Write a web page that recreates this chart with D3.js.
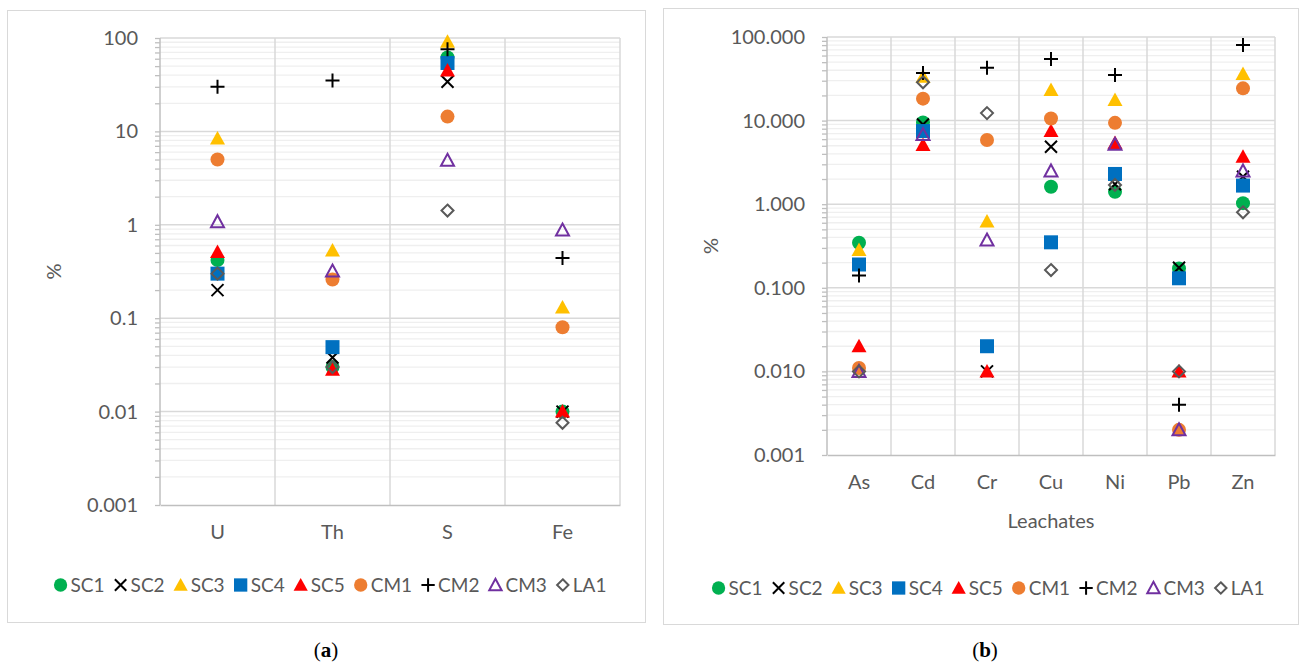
<!DOCTYPE html>
<html>
<head>
<meta charset="utf-8">
<script src="https://cdn.jsdelivr.net/npm/d3@7"></script>
<style>
  html, body { margin: 0; padding: 0; background: #fff; }
  svg { display: block; }
</style>
</head>
<body>
<svg id="fig" width="1304" height="664"></svg>
<script>
// ---- data -------------------------------------------------------------
const seriesNames = ["SC1", "SC2", "SC3", "SC4", "SC5", "CM1", "CM2", "CM3", "LA1"];

// (a) total contents, %
const totalElements = ["U", "Th", "S", "Fe"];
const totalSC1 = [0.42, 0.030, 62, 0.010];
const totalSC2 = [0.20, 0.038, 34, 0.010];
const totalSC3 = [8.4, 0.53, 91, 0.13];
const totalSC4 = [0.30, 0.049, 54, null];
const totalSC5 = [0.51, 0.028, 45, 0.010];
const totalCM1 = [5.0, 0.26, 14.4, 0.08];
const totalCM2 = [30, 35, 76, 0.44];
const totalCM3 = [1.08, 0.32, 4.9, 0.88];
const totalLA1 = [0.30, 0.030, 1.42, 0.0076];
const totalTicks = ["0.001", "0.01", "0.1", "1", "10", "100"];

// (b) leachates, %
const leachElements = ["As", "Cd", "Cr", "Cu", "Ni", "Pb", "Zn"];
const leachSC1 = [0.346, 9.5, null, 1.62, 1.41, 0.17, 1.03];
const leachSC2 = [null, 9.0, 0.010, 4.87, 1.73, 0.174, 2.13];
const leachSC3 = [0.283, 33.5, 0.62, 23.2, 17.6, null, 36];
const leachSC4 = [0.19, 7.5, 0.020, 0.35, 2.3, 0.13, 1.67];
const leachSC5 = [0.020, 5.1, 0.010, 7.5, 5.4, 0.010, 3.7];
const leachCM1 = [0.011, 18.3, 5.86, 10.6, 9.4, 0.002, 24.3];
const leachCM2 = [0.14, 37, 43, 54.5, 35, 0.004, 80];
const leachCM3 = [0.010, 6.8, 0.373, 2.5, 5.2, 0.002, 2.5];
const leachLA1 = [0.010, 28.7, 12.3, 0.163, 1.7, 0.010, 0.80];
const leachTicks = ["0.001", "0.010", "0.100", "1.000", "10.000", "100.000"];

// ---- marker styles ----------------------------------------------------
const styles = {
  SC1: { shape: "circle",   color: "#00B050" },
  SC2: { shape: "x",        color: "#000000" },
  SC3: { shape: "triangle", color: "#FFC000" },
  SC4: { shape: "square",   color: "#0070C0" },
  SC5: { shape: "triangle", color: "#FF0000" },
  CM1: { shape: "circle",   color: "#ED7D31" },
  CM2: { shape: "plus",     color: "#000000" },
  CM3: { shape: "otriangle",color: "#7030A0" },
  LA1: { shape: "diamond",  color: "#595959" }
};

const SANS = "Lato, 'Open Sans', sans-serif";
const SERIF = "'Liberation Serif', 'DejaVu Serif', serif";

function drawMarker(g, shape, color, s) {
  s = s || 1;
  switch (shape) {
    case "circle":
      g.append("circle").attr("r", 7 * s).attr("fill", color);
      break;
    case "square":
      g.append("rect").attr("x", -7 * s).attr("y", -7 * s)
        .attr("width", 14 * s).attr("height", 14 * s).attr("fill", color);
      break;
    case "triangle":
      g.append("path").attr("d", `M0,${-7.5 * s}L${7.5 * s},${6 * s}L${-7.5 * s},${6 * s}Z`).attr("fill", color);
      break;
    case "otriangle":
      g.append("path").attr("d", `M0,${-6.5 * s}L${6.5 * s},${5.5 * s}L${-6.5 * s},${5.5 * s}Z`)
        .attr("fill", "none").attr("stroke", color).attr("stroke-width", 2);
      break;
    case "diamond":
      g.append("path").attr("d", `M0,${-6 * s}L${6 * s},0L0,${6 * s}L${-6 * s},0Z`)
        .attr("fill", "none").attr("stroke", color).attr("stroke-width", 2);
      break;
    case "x":
      g.append("path").attr("d", `M${-6 * s},${-6 * s}L${6 * s},${6 * s}M${6 * s},${-6 * s}L${-6 * s},${6 * s}`)
        .attr("stroke", color).attr("stroke-width", 2);
      break;
    case "plus":
      g.append("path").attr("d", `M${-7 * s},0L${7 * s},0M0,${-7 * s}L0,${7 * s}`)
        .attr("stroke", color).attr("stroke-width", 2);
      break;
  }
}

const svg = d3.select("#fig");

function panel(cfg) {
  const { frame, x0, x1, y0, y1, categories, series, tickLabels, xTitle, legendY, legendCx, caption, captionX } = cfg;

  svg.append("rect")
    .attr("x", frame[0] + 0.5).attr("y", frame[1] + 0.5)
    .attr("width", frame[2]).attr("height", frame[3])
    .attr("fill", "#fff").attr("stroke", "#d9d9d9").attr("stroke-width", 1);

  const y = d3.scaleLog().domain([0.001, 100]).range([y1, y0]);
  const x = d3.scaleBand().domain(categories).range([x0, x1]).padding(0);

  const majors = tickLabels.map(Number);
  const minors = y.ticks().filter(v => !majors.some(m => Math.abs(m - v) / m < 1e-6));

  const g = svg.append("g");

  // minor gridlines
  g.selectAll("line.minor").data(minors).join("line")
    .attr("x1", x0).attr("x2", x1)
    .attr("y1", d => y(d)).attr("y2", d => y(d))
    .attr("stroke", "#efefef").attr("stroke-width", 1.3);

  // category gridlines
  const bounds = categories.map(c => x(c)).concat([x1]).slice(1);
  g.selectAll("line.vgrid").data(bounds).join("line")
    .attr("x1", d => d).attr("x2", d => d)
    .attr("y1", y0).attr("y2", y1)
    .attr("stroke", "#d9d9d9").attr("stroke-width", 1.5);

  // major gridlines
  g.selectAll("line.major").data(majors.slice(1)).join("line")
    .attr("x1", x0).attr("x2", x1)
    .attr("y1", d => y(d)).attr("y2", d => y(d))
    .attr("stroke", "#d9d9d9").attr("stroke-width", 1.5);

  // y axis with minor and major ticks
  const minorAxis = d3.axisLeft(y).tickValues(minors).tickSize(5).tickFormat("");
  const ga = g.append("g").attr("transform", `translate(${x0},0)`).call(minorAxis);
  const majorAxis = d3.axisLeft(y).tickValues(majors).tickSize(5).tickPadding(17)
    .tickFormat((d, i) => tickLabels[i]);
  const gm = g.append("g").attr("transform", `translate(${x0},0)`).call(majorAxis);
  [ga, gm].forEach(a => {
    a.select(".domain").remove();
    a.selectAll("line").attr("stroke", "#bfbfbf").attr("stroke-width", 1.3);
  });
  gm.selectAll("text").attr("fill", "#595959").attr("font-size", 20)
    .style("font-family", SANS);
  g.append("line").attr("x1", x0).attr("x2", x0).attr("y1", y0).attr("y2", y1)
    .attr("stroke", "#bfbfbf").attr("stroke-width", 1.5);

  // x axis
  const xa = d3.axisBottom(x).tickSize(0).tickPadding(20);
  const gx = g.append("g").attr("transform", `translate(0,${y1})`).call(xa);
  gx.select(".domain").attr("stroke", "#bfbfbf").attr("stroke-width", 1.5);
  gx.selectAll("text").attr("fill", "#595959").attr("font-size", 20)
    .style("font-family", SANS);

  if (xTitle) {
    g.append("text").attr("x", (x0 + x1) / 2).attr("y", y1 + 73)
      .attr("text-anchor", "middle").attr("fill", "#595959").attr("font-size", 20)
      .style("font-family", SANS)
      .text(xTitle);
  }

  // y title
  g.append("text")
    .attr("transform", `translate(${cfg.yTitleX},${(y0 + y1) / 2}) rotate(-90)`)
    .attr("text-anchor", "middle").attr("fill", "#595959").attr("font-size", 20)
    .style("font-family", SANS)
    .text("%");

  // points
  series.forEach(s => {
    const st = styles[s.name];
    s.values.forEach((v, i) => {
      if (v == null) return;
      const m = g.append("g")
        .attr("transform", `translate(${x(categories[i]) + x.bandwidth() / 2},${y(v)})`);
      drawMarker(m, st.shape, st.color);
    });
  });

  // legend
  const lg = svg.append("g");
  let cursor = 0;
  seriesNames.forEach(name => {
    const st = styles[name];
    const item = lg.append("g").attr("transform", `translate(${cursor},0)`);
    drawMarker(item.append("g").attr("transform", "translate(7,0)"), st.shape, st.color, 0.95);
    const t = item.append("text").attr("x", 17).attr("y", 7)
      .attr("fill", "#595959").attr("font-size", 19)
      .style("font-family", SANS).text(name);
    cursor += 17 + t.node().getComputedTextLength() + 9;
  });
  const total = cursor - 9;
  lg.attr("transform", `translate(${legendCx - total / 2},${legendY})`);

  // caption
  const cap = svg.append("text").attr("x", captionX).attr("y", 657)
    .attr("text-anchor", "middle").attr("font-size", 21)
    .style("font-family", SERIF).attr("fill", "#000");
  cap.append("tspan").text("(");
  cap.append("tspan").attr("font-weight", "bold").text(caption);
  cap.append("tspan").text(")");
}

panel({
  frame: [7, 10, 638, 612],
  x0: 160, x1: 620, y0: 38, y1: 505,
  categories: totalElements,
  series: [
    { name: "SC1", values: totalSC1 }, { name: "SC2", values: totalSC2 },
    { name: "SC3", values: totalSC3 }, { name: "SC4", values: totalSC4 },
    { name: "SC5", values: totalSC5 }, { name: "CM1", values: totalCM1 },
    { name: "CM2", values: totalCM2 }, { name: "CM3", values: totalCM3 },
    { name: "LA1", values: totalLA1 }
  ],
  tickLabels: totalTicks,
  xTitle: null,
  yTitleX: 61,
  legendY: 585, legendCx: 330,
  caption: "a", captionX: 326
});

panel({
  frame: [663, 8, 635, 616],
  x0: 827, x1: 1275, y0: 37, y1: 455,
  categories: leachElements,
  series: [
    { name: "SC1", values: leachSC1 }, { name: "SC2", values: leachSC2 },
    { name: "SC3", values: leachSC3 }, { name: "SC4", values: leachSC4 },
    { name: "SC5", values: leachSC5 }, { name: "CM1", values: leachCM1 },
    { name: "CM2", values: leachCM2 }, { name: "CM3", values: leachCM3 },
    { name: "LA1", values: leachLA1 }
  ],
  tickLabels: leachTicks,
  xTitle: "Leachates",
  yTitleX: 718,
  legendY: 588, legendCx: 988,
  caption: "b", captionX: 985
});
</script>
</body>
</html>
